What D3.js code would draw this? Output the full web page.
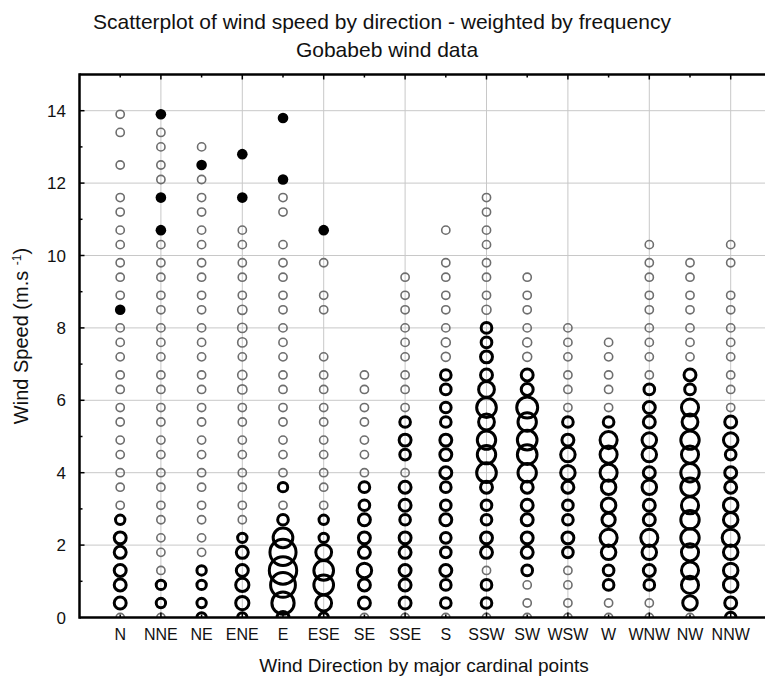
<!DOCTYPE html>
<html>
<head>
<meta charset="utf-8">
<script src="https://cdn.jsdelivr.net/npm/d3@7"></script>
<style>
  body { margin: 0; background: #fff; }
  text { font-family: "Liberation Sans", Arial, sans-serif; fill: #111; }
</style>
</head>
<body>
<svg id="chart" width="765" height="681"></svg>
<script>
// Wind directions, x positions 1..16
const directions = ["N", "NNE", "NE", "ENE", "E", "ESE", "SE", "SSE", "S", "SSW", "SW", "WSW", "W", "WNW", "NW", "NNW"];

// Observed speed classes (m/s), one row entry per class below
const speedLevels = [0, 0.4, 0.9, 1.3, 1.8, 2.2, 2.7, 3.1, 3.6, 4.0, 4.5, 4.9, 5.4, 5.8, 6.3, 6.7,
  7.2, 7.6, 8.0, 8.5, 8.9, 9.4, 9.8, 10.3, 10.7, 11.2, 11.6, 12.1, 12.5, 13.0, 13.4, 13.9];

// Frequency weight of each speed class per direction (0 = nothing plotted)
const wN   = [1, 3, 3, 3, 3, 3, 2, 1, 1, 1, 1, 1, 1, 1, 1, 1, 1, 1, 1, 0, 1, 1, 1, 1, 1, 1, 1, 0, 1, 0, 1, 1];
const wNNE = [1, 2, 2, 1, 1, 1, 1, 1, 1, 1, 1, 1, 1, 1, 1, 1, 1, 1, 1, 1, 1, 1, 1, 1, 0, 0, 0, 1, 1, 1, 1, 0];
const wNE  = [2, 2, 2, 2, 1, 1, 1, 1, 1, 1, 1, 1, 1, 1, 1, 1, 1, 1, 1, 1, 1, 1, 1, 1, 1, 1, 1, 1, 0, 1, 0, 0];
const wENE = [2, 3.5, 3.5, 3, 3, 2, 1, 1, 1, 1, 1, 1, 1, 1, 1.4, 1.4, 1, 1.4, 1.4, 1.4, 1, 1, 1, 1, 1, 0, 0, 0, 0, 0, 0, 0];
const wE   = [3, 7, 8, 9, 8.5, 6, 2.5, 1, 2, 1, 1, 1, 1, 1, 1, 1, 1, 1, 1, 1, 1, 1, 1, 1, 0, 1, 1, 0, 0, 0, 0, 0];
const wESE = [2, 4.5, 6, 6, 4.5, 2, 2, 1, 1, 1, 1, 1, 1, 1, 1, 1, 1, 0, 0, 1, 1, 0, 1, 0, 0, 0, 0, 0, 0, 0, 0, 0];
const wSE  = [1, 3, 3, 4, 3, 3, 3, 2.5, 2.5, 1, 1, 1, 1, 1, 1, 1, 0, 0, 0, 0, 0, 0, 0, 0, 0, 0, 0, 0, 0, 0, 0, 0];
const wSSE = [1, 3, 3, 3, 3, 3, 2.5, 3, 3, 1, 2.5, 3, 2.5, 1, 1, 1, 1, 1, 1, 1, 1, 1, 0, 0, 0, 0, 0, 0, 0, 0, 0, 0];
const wS   = [1, 2.5, 2.5, 3, 2.5, 2.5, 3, 2.5, 2.5, 3, 3, 3, 2.5, 2.5, 2.5, 2.5, 1.3, 1.3, 1, 1, 1, 1, 1, 0, 1, 0, 0, 0, 0, 0, 0, 0];
const wSSW = [1, 2.5, 2.5, 1, 3, 3, 2.5, 2.5, 3, 6, 5.5, 5.5, 4.5, 6, 4.5, 3, 3, 2.5, 2.5, 1.3, 1, 1, 1, 1, 1, 1, 1, 0, 0, 0, 0, 0];
const wSW  = [1, 1, 1, 2.5, 3, 3, 3, 3, 3, 5.5, 6, 6, 5.5, 6.5, 3, 3, 1.3, 1.3, 1, 1, 1, 1, 0, 0, 0, 0, 0, 0, 0, 0, 0, 0];
const wWSW = [1, 1, 1, 1, 2.5, 3, 2.5, 2.5, 3, 4, 4, 3, 2.5, 1, 1, 1, 1, 1, 1, 0, 0, 0, 0, 0, 0, 0, 0, 0, 0, 0, 0, 0];
const wW   = [1, 1, 2.5, 2.5, 4, 5, 3.5, 4, 4, 5, 5, 5, 2.5, 1, 1, 1, 1, 1, 0, 0, 0, 0, 0, 0, 0, 0, 0, 0, 0, 0, 0, 0];
const wWNW = [1, 1, 2.5, 3, 4, 5, 3, 3, 4, 3, 4, 4, 3, 3, 2.5, 1, 1, 1, 1, 1, 1, 1, 1, 1, 0, 0, 0, 0, 0, 0, 0, 0];
const wNW  = [1, 4, 5, 5, 5, 5.5, 5.5, 5, 5.5, 5.5, 5, 5.5, 4.5, 5, 2.5, 3, 1, 1, 1, 1, 1, 1, 1, 0, 0, 0, 0, 0, 0, 0, 0, 0];
const wNNW = [2.5, 3, 4, 4, 4, 5, 4, 4, 3, 3, 2.5, 4, 3, 1, 1, 1, 1, 1, 1, 1, 1, 0, 1, 1, 0, 0, 0, 0, 0, 0, 0, 0];

// Single (filled) observations
const singleDirs   = ["N", "NNE", "NNE", "NNE", "NE", "ENE", "ENE", "E", "E", "ESE"];
const singleSpeeds = [8.5, 13.9, 11.6, 10.7, 12.5, 12.8, 11.6, 13.8, 12.1, 10.7];

const yTicks = [0, 2, 4, 6, 8, 10, 12, 14];

const weights = [wN, wNNE, wNE, wENE, wE, wESE, wSE, wSSE, wS, wSSW, wSW, wWSW, wW, wWNW, wNW, wNNW];

const svg = d3.select("#chart");
const plot = { left: 79.5, right: 771.4, top: 74.5, bottom: 617.5 };

const x = d3.scaleLinear().domain([0, 17]).range([plot.left, plot.right]);
const y = d3.scaleLinear().domain([0, 15]).range([plot.bottom, plot.top]);
// outer radius (px) from frequency weight
const r = d3.scaleLinear().domain([1, 9]).range([4.9, 15.2]);

svg.append("defs").append("clipPath").attr("id", "clip")
  .append("rect")
  .attr("x", plot.left).attr("y", plot.top)
  .attr("width", plot.right - plot.left).attr("height", plot.bottom - plot.top);

// Grid
const grid = svg.append("g").attr("stroke", "#c8c8c8").attr("stroke-width", 1);
grid.selectAll(".hg").data(yTicks.filter(d => d > 0)).enter().append("line")
  .attr("x1", plot.left).attr("x2", plot.right)
  .attr("y1", d => y(d)).attr("y2", d => y(d));
grid.selectAll(".vg").data(d3.range(2, 17, 2)).enter().append("line")
  .attr("x1", d => x(d)).attr("x2", d => x(d))
  .attr("y1", plot.top).attr("y2", plot.bottom);

// Points
const pts = [];
weights.forEach((row, i) => {
  row.forEach((w, j) => {
    if (w > 0) pts.push({ dir: i + 1, speed: speedLevels[j], w });
  });
});

const marks = svg.append("g").attr("clip-path", "url(#clip)");

marks.selectAll("circle.w").data(pts).enter().append("circle")
  .attr("class", "w")
  .attr("cx", d => x(d.dir))
  .attr("cy", d => y(d.speed))
  .attr("r", d => d.w < 2 ? r(d.w) - 0.8 : r(d.w) - 1.5)
  .attr("fill", "none")
  .attr("stroke", d => d.w < 2 ? "#6e6e6e" : "#000")
  .attr("stroke-width", d => d.w < 2 ? 1.6 : 3);

marks.selectAll("circle.s").data(singleDirs).enter().append("circle")
  .attr("class", "s")
  .attr("cx", d => x(directions.indexOf(d) + 1))
  .attr("cy", (d, i) => y(singleSpeeds[i]))
  .attr("r", 5.3)
  .attr("fill", "#000");

// Axes frame
const frame = svg.append("g").attr("stroke", "#000").attr("stroke-width", 2.5);
frame.append("line").attr("x1", plot.left).attr("x2", plot.right).attr("y1", plot.top).attr("y2", plot.top);
frame.append("line").attr("x1", plot.left).attr("x2", plot.right).attr("y1", plot.bottom).attr("y2", plot.bottom);
frame.append("line").attr("x1", plot.left).attr("x2", plot.left).attr("y1", plot.top - 1.25).attr("y2", plot.bottom + 1.25);

// Tick marks: categories on top/bottom, speed on the left
const ticks = svg.append("g").attr("stroke", "#000").attr("stroke-width", 1.5);
ticks.selectAll(".tt").data(d3.range(1, 17)).enter().append("line")
  .attr("x1", d => x(d)).attr("x2", d => x(d))
  .attr("y1", plot.top).attr("y2", d => plot.top + (d % 2 ? 3 : 5));
ticks.selectAll(".bt").data(d3.range(1, 17)).enter().append("line")
  .attr("x1", d => x(d)).attr("x2", d => x(d))
  .attr("y1", plot.bottom).attr("y2", d => plot.bottom - (d % 2 ? 3 : 5));
ticks.selectAll(".lt").data(d3.range(1, 15)).enter().append("line")
  .attr("x1", plot.left).attr("x2", d => plot.left + (d % 2 ? 3 : 5))
  .attr("y1", d => y(d)).attr("y2", d => y(d));

// Tick labels
svg.append("g").selectAll("text").data(yTicks).enter().append("text")
  .attr("x", 66).attr("y", d => y(d)).attr("dy", "0.36em")
  .attr("text-anchor", "end").attr("font-size", 17)
  .text(d => d);

svg.append("g").selectAll("text").data(directions).enter().append("text")
  .attr("x", (d, i) => x(i + 1)).attr("y", 640)
  .attr("text-anchor", "middle").attr("font-size", 16)
  .text(d => d);

// Titles
svg.append("text").attr("x", 382).attr("y", 29).attr("text-anchor", "middle")
  .attr("font-size", 21).text("Scatterplot of wind speed by direction - weighted by frequency");
svg.append("text").attr("x", 387).attr("y", 57).attr("text-anchor", "middle")
  .attr("font-size", 21).text("Gobabeb wind data");
svg.append("text").attr("x", 424).attr("y", 672).attr("text-anchor", "middle")
  .attr("font-size", 19).text("Wind Direction by major cardinal points");

const yl = svg.append("text")
  .attr("transform", "translate(28,336) rotate(-90)")
  .attr("text-anchor", "middle").attr("font-size", 20);
yl.append("tspan").text("Wind Speed (m.s ");
yl.append("tspan").attr("dy", -7).attr("font-size", 12).text("-1");
yl.append("tspan").attr("dy", 7).text(")");
</script>
</body>
</html>
